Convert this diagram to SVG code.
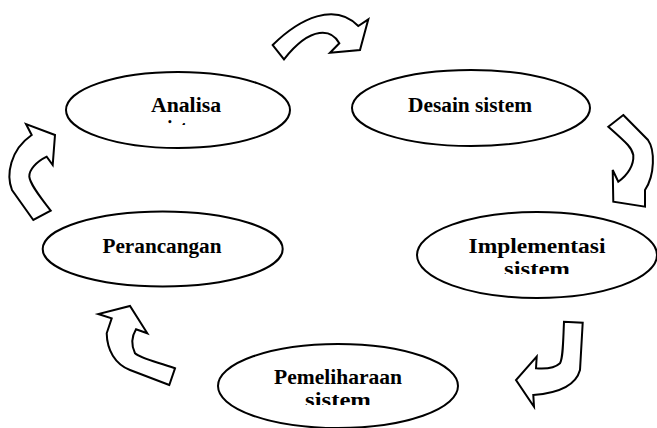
<svg xmlns="http://www.w3.org/2000/svg" width="657" height="428" viewBox="0 0 657 428">
  <style>
    .node ellipse { fill: #ffffff; stroke: #000000; stroke-width: 2; }
    .node text { font-family: "Liberation Serif", "Times New Roman", serif; font-weight: bold; font-size: 20px; fill: #000000; text-anchor: middle; }
    .arrow { fill: #ffffff; stroke: #000000; stroke-width: 2; stroke-linejoin: miter; }
  </style>
  <defs>
    <clipPath id="clip-analisa"><rect x="60" y="90" width="240" height="35"/></clipPath>
    <clipPath id="clip-impl"><rect x="410" y="230" width="247" height="44"/></clipPath>
    <clipPath id="clip-pemel"><rect x="210" y="360" width="260" height="45"/></clipPath>
  </defs>
  <rect width="657" height="428" fill="#ffffff"/>

  <!-- curved block arrows -->
  <g id="connectors">
    <path class="arrow" d="M272.7,45 C300,18 335,2 358.3,26 L368.3,19.3 L360,50 L330,52.7 L339.3,43.3 C332,30 312,24 284,59.3 Z"/>
    <path class="arrow" d="M623.3,115 L648,140 C655,150 655,175 645,190 L645,206.7 L613.3,201.7 L612.7,170 L618.3,181.7 C628,175 634,165 633.3,155 C632,148 628,144 608.3,126.7 Z"/>
    <path class="arrow" d="M33.3,220 L12,190 C6,175 10,150 31.7,135 L26,124 L55,135 L52.7,165 L46.7,156.7 C36,162 29,170 29.3,176.7 C30,183 36,192 50.7,210.7 Z"/>
    <path class="arrow" d="M582.7,322.7 L580,370 C576,385 560,393 533.3,395 L534,406.7 L516,380 L536.7,356.7 L536,368.3 C545,369 555,368 560,363.3 C563,358 563,345 564,321.7 Z"/>
    <path class="arrow" d="M169.3,385 L130,370 C115,364 107,350 106.7,333.3 L111.7,318.3 L98.3,314 L130,306 L147.3,333.3 L136,329.3 C132,336 131,345 135,353.3 C140,358 150,360 175,368.3 Z"/>
  </g>

  <g id="node-analisa" class="node">
    <ellipse cx="178" cy="110" rx="112" ry="38"/>
    <g clip-path="url(#clip-analisa)">
      <text x="186" y="112" textLength="70" lengthAdjust="spacingAndGlyphs">Analisa</text>
      <text x="186" y="135">sistem</text>
    </g>
  </g>

  <g id="node-desain" class="node">
    <ellipse cx="471" cy="108" rx="119" ry="38"/>
    <text x="470" y="112" textLength="124" lengthAdjust="spacingAndGlyphs">Desain sistem</text>
  </g>

  <g id="node-perancangan" class="node">
    <ellipse cx="162.7" cy="249" rx="120" ry="37.5"/>
    <text x="162" y="252.7" textLength="119" lengthAdjust="spacingAndGlyphs">Perancangan</text>
  </g>

  <g id="node-implementasi" class="node">
    <ellipse cx="537" cy="255" rx="120" ry="43"/>
    <g clip-path="url(#clip-impl)">
      <text x="537" y="253" textLength="137" lengthAdjust="spacingAndGlyphs">Implementasi</text>
      <text x="537" y="276" textLength="66" lengthAdjust="spacingAndGlyphs">sistem</text>
    </g>
  </g>

  <g id="node-pemeliharaan" class="node">
    <ellipse cx="338" cy="386" rx="120" ry="42"/>
    <g clip-path="url(#clip-pemel)">
      <text x="338" y="384" textLength="128" lengthAdjust="spacingAndGlyphs">Pemeliharaan</text>
      <text x="338" y="407" textLength="66" lengthAdjust="spacingAndGlyphs">sistem</text>
    </g>
  </g>
</svg>
